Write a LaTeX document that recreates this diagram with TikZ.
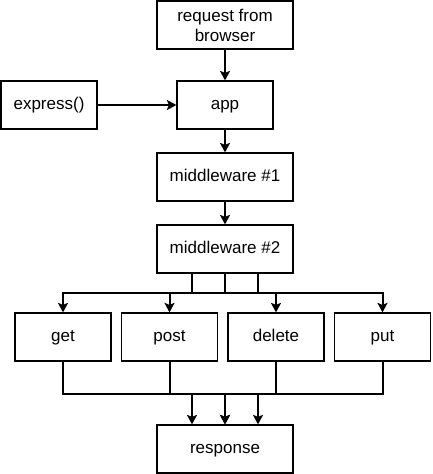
\documentclass[tikz,border=0pt]{standalone}
\usepackage{fontspec}
\setmainfont{Liberation Sans}
\usetikzlibrary{arrows.meta}
\begin{document}
\begin{tikzpicture}[x=1pt,y=-1pt,
  box/.style={draw,line width=1.2pt,minimum width=136pt,minimum height=48pt,inner sep=0pt,
    font=\fontsize{17}{20}\selectfont,align=center},
  onebox/.style={box,text height=12.5pt,text depth=3.5pt},
  smallbox/.style={onebox,minimum width=96pt},
  flow/.style={line width=2pt,-{Stealth[length=9.5pt,width=10pt,inset=2pt]}}]
\useasboundingbox (0,0) rectangle (432,474);
\coordinate (R) at (225,25);
\coordinate (A) at (225,105);
\coordinate (E) at (49,105);
\coordinate (M1) at (225,177);
\coordinate (M2) at (225,249);
\coordinate (G) at (63,337);
\coordinate (P) at (169.5,337);
\coordinate (D) at (276,337);
\coordinate (U) at (382.5,337);
\coordinate (S) at (225,449);

\node [box] (req) at (R) {request from\\browser};
\node [smallbox] (app) at (A) {app};
\node [smallbox] (express) at (E) {express()};
\node [onebox] (mw1) at (M1) {middleware \#1};
\node [onebox] (mw2) at (M2) {middleware \#2};
\node [smallbox] (get) at (G) {get};
\node [smallbox] (post) at (P) {post};
\node [smallbox] (delete) at (D) {delete};
\node [smallbox] (put) at (U) {put};
\node [onebox] (resp) at (S) {response};

\draw [flow] (req) -- (app);
\draw [flow] (express) -- (app);
\draw [flow] (app) -- (mw1);
\draw [flow] (mw1) -- (mw2);
\draw [flow] ([xshift=-33pt]mw2.south) -- ++(0,19) -| (get);
\draw [flow] (mw2.south) -- ++(0,19) -| (post);
\draw [flow] (mw2.south) -- ++(0,19) -| (delete);
\draw [flow] ([xshift=33pt]mw2.south) -- ++(0,19) -| (put);
\draw [flow] (get.south) -- ++(0,32) -| ([xshift=-33pt]resp.north);
\draw [flow] (post.south) -- ++(0,32) -| (resp.north);
\draw [flow] (delete.south) -- ++(0,32) -| (resp.north);
\draw [flow] (put.south) -- ++(0,32) -| ([xshift=33pt]resp.north);
\end{tikzpicture}
\end{document}
